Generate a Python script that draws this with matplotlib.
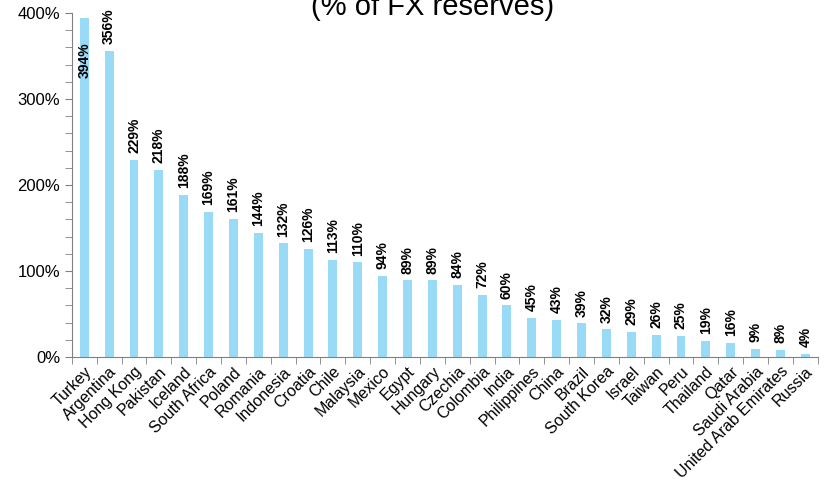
import matplotlib
matplotlib.use("Agg")
import matplotlib.pyplot as plt
import numpy as np

countries = ["Turkey", "Argentina", "Hong Kong", "Pakistan", "Iceland", "South Africa",
             "Poland", "Romania", "Indonesia", "Croatia", "Chile", "Malaysia", "Mexico",
             "Egypt", "Hungary", "Czechia", "Colombia", "India", "Philippines", "China",
             "Brazil", "South Korea", "Israel", "Taiwan", "Peru", "Thailand", "Qatar",
             "Saudi Arabia", "United Arab Emirates", "Russia"]
values = [394, 356, 229, 218, 188, 169, 161, 144, 132, 126, 113, 110, 94, 89, 89,
          84, 72, 60, 45, 43, 39, 32, 29, 26, 25, 19, 16, 9, 8, 4]

plt.rcParams['font.family'] = ['Liberation Sans', 'DejaVu Sans']

fig = plt.figure(figsize=(8.26, 4.82), dpi=100)
ax = fig.add_axes([0.087, 0.2593, 0.903, 0.7137])

x = np.arange(len(countries))
ax.bar(x, values, width=0.36, color='#99dbf7')

# value labels, Turkey's sits inside the bar top
for xi, v in zip(x, values):
    if v > 380:
        ax.text(xi, v - 28, f"{v}%", rotation=90, ha='center', va='top',
                fontsize=10, fontweight='bold')
    else:
        ax.text(xi, v + 8, f"{v}%", rotation=90, ha='center', va='bottom',
                fontsize=10, fontweight='bold')

ax.set_xlim(-0.5, len(countries) - 0.5)
ax.set_ylim(0, 400)
ax.set_yticks(np.arange(0, 401, 100))
ax.set_yticklabels([f"{t}%" for t in range(0, 401, 100)], fontsize=12)
ax.set_yticks(np.arange(0, 401, 20), minor=True)

ax.set_xticks(x)
ax.set_xticklabels(countries, rotation=45, ha='right', rotation_mode='anchor', fontsize=11.5)
ax.tick_params(axis='x', length=0, pad=5)
ax.set_xticks(np.arange(-0.5, len(countries), 1), minor=True)
ax.tick_params(axis='x', which='minor', length=5, color='#808080')
ax.tick_params(axis='y', which='both', direction='out', length=5, color='#808080')

for s in ['top', 'right']:
    ax.spines[s].set_visible(False)
for s in ['left', 'bottom']:
    ax.spines[s].set_color('#808080')

fig.text(0.524, 0.969, "(% of FX reserves)", ha='center', va='baseline', fontsize=21)

fig.savefig("out.png", dpi=100)
